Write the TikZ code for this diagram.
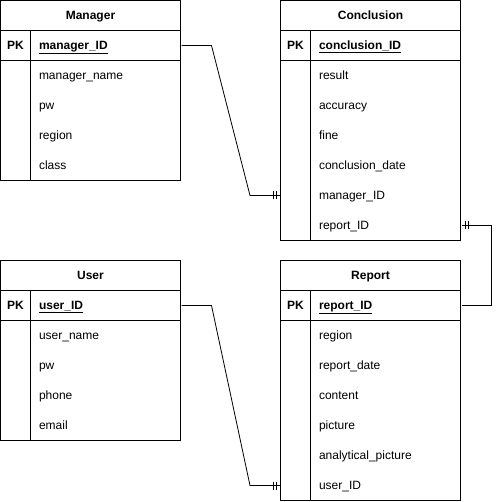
\documentclass[tikz,border=0pt]{standalone}
\usepackage{fontspec}
\setmainfont{Liberation Sans}
\usetikzlibrary{calc}

\tikzset{
  title/.style={font=\fontsize{12}{14}\selectfont\bfseries, minimum width=180pt, minimum height=30pt, inner sep=0pt, text height=11pt, text depth=3pt},
  pk/.style={font=\fontsize{12}{14}\selectfont\bfseries, minimum width=30pt, minimum height=30pt, inner sep=0pt, text height=11pt, text depth=3pt},
  field/.style={font=\fontsize{12}{14}\selectfont, anchor=west, text width=134pt, minimum height=30pt, inner xsep=8pt, inner ysep=0pt, align=left, text height=11pt, text depth=3pt},
  key/.style={field, font=\fontsize{12}{14}\selectfont\bfseries}
}

\begin{document}
\begin{tikzpicture}[x=1pt, y=-1pt, line width=1pt]
    \useasboundingbox (-0.5,-0.5) rectangle (498.5,501.5);

    % Manager table
    \draw (0,0) rectangle (180,180);
    \draw (0,30) -- (180,30);
    \draw (0,60) -- (180,60);
    \draw (30,30) -- (30,180);
    \node[title] (mgr) at (90,15) {Manager};
    \node[pk] (mpk) at (15,45) {PK};
    \node[key] (mid) at (30,45) {\underline{manager\_ID}};
    \node[field] (mname) at (30,75) {manager\_name};
    \node[field] (mpw) at (30,105) {pw};
    \node[field] (mregion) at (30,135) {region};
    \node[field] (mclass) at (30,165) {class};

    % Conclusion table
    \draw (280,0) rectangle (460,240);
    \draw (280,30) -- (460,30);
    \draw (280,60) -- (460,60);
    \draw (310,30) -- (310,240);
    \node[title] (con) at (370,15) {Conclusion};
    \node[pk] (cpk) at (295,45) {PK};
    \node[key] (cid) at (310,45) {\underline{conclusion\_ID}};
    \node[field] (cresult) at (310,75) {result};
    \node[field] (cacc) at (310,105) {accuracy};
    \node[field] (cfine) at (310,135) {fine};
    \node[field] (cdate) at (310,165) {conclusion\_date};
    \node[field] (cmgr) at (310,195) {manager\_ID};
    \node[field] (crep) at (310,225) {report\_ID};

    % User table
    \draw (0,260) rectangle (180,440);
    \draw (0,290) -- (180,290);
    \draw (0,320) -- (180,320);
    \draw (30,290) -- (30,440);
    \node[title] (usr) at (90,275) {User};
    \node[pk] (upk) at (15,305) {PK};
    \node[key] (uid) at (30,305) {\underline{user\_ID}};
    \node[field] (uname) at (30,335) {user\_name};
    \node[field] (upw) at (30,365) {pw};
    \node[field] (uphone) at (30,395) {phone};
    \node[field] (uemail) at (30,425) {email};

    % Report table
    \draw (280,260) rectangle (460,500);
    \draw (280,290) -- (460,290);
    \draw (280,320) -- (460,320);
    \draw (310,290) -- (310,500);
    \node[title] (rep) at (370,275) {Report};
    \node[pk] (rpk) at (295,305) {PK};
    \node[key] (rid) at (310,305) {\underline{report\_ID}};
    \node[field] (rregion) at (310,335) {region};
    \node[field] (rdate) at (310,365) {report\_date};
    \node[field] (rcontent) at (310,395) {content};
    \node[field] (rpic) at (310,425) {picture};
    \node[field] (rapic) at (310,455) {analytical\_picture};
    \node[field] (ruser) at (310,485) {user\_ID};

    % Relations
    \draw[line width=0.8pt] (mid.east) -- +(30,0) -- ($(cmgr.west -| con.west)+(-30,0)$) -- (cmgr.west -| con.west);
    \draw[line width=0.8pt] ($(cmgr.west -| con.west)+(-7,-4)$) -- +(0,8);
    \draw[line width=0.8pt] ($(cmgr.west -| con.west)+(-4,-4)$) -- +(0,8);

    \draw[line width=0.8pt] (crep.east) -- +(30,0) |- (rid.east);
    \draw[line width=0.8pt] ($(crep.east)+(4,-4)$) -- +(0,8);
    \draw[line width=0.8pt] ($(crep.east)+(7,-4)$) -- +(0,8);

    \draw[line width=0.8pt] (uid.east) -- +(30,0) -- ($(ruser.west -| rep.west)+(-30,0)$) -- (ruser.west -| rep.west);
    \draw[line width=0.8pt] ($(ruser.west -| rep.west)+(-7,-4)$) -- +(0,8);
    \draw[line width=0.8pt] ($(ruser.west -| rep.west)+(-4,-4)$) -- +(0,8);
\end{tikzpicture}
\end{document}
